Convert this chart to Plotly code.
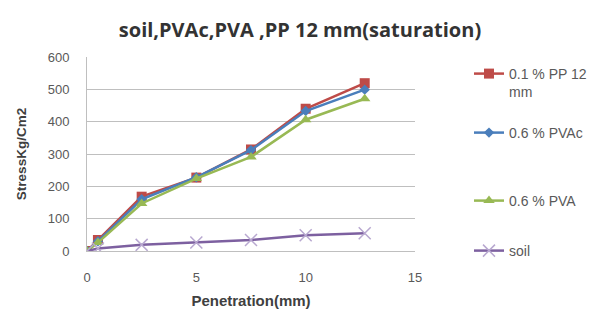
import plotly.graph_objects as go

penetration = [0, 0.5, 2.5, 5, 7.5, 10, 12.7]
pp_12mm = [0, 34, 168, 227, 314, 440, 519]
pvac = [0, 30, 160, 228, 312, 433, 499]
pva = [0, 26, 147, 224, 291, 406, 471]
soil = [0, 8, 19, 26, 34, 49, 55]

names = ["0.1 % PP 12<br>mm", "0.6 % PVAc", "0.6 % PVA", "soil"]
series = [pp_12mm, pvac, pva, soil]
colors = ["#BE4B48", "#4A7EBB", "#98B954", "#7D60A0"]
symbols = ["square", "diamond", "triangle-up", "x-thin"]
sizes = [10, 8, 10, 12]
legend_ids = ["legend", "legend2", "legend3", "legend4"]
legend_top_px = [50, 109, 177, 227]  # pixel from top of the figure

# page has an 8px body margin, so the figure is offset by 8px
W, H = 597, 325
pl, pt = 79, 49
pw, ph = 328, 194
pr = W - pl - pw
pb = H - pt - ph

fig = go.Figure()
for name, ys, c, s, sz, lg in zip(names, series, colors, symbols, sizes, legend_ids):
    mk = dict(symbol=s, size=sz, color=c)
    if s == "x-thin":
        mk = dict(symbol=s, size=sz, color="#B8A8D0", line=dict(width=1.5, color="#B8A8D0"))
    fig.add_trace(go.Scatter(x=penetration, y=ys, name=name, mode="lines+markers",
                             line=dict(color=c, width=2.5), marker=mk, legend=lg,
                             showlegend=True))

layout_legends = {}
for lg, py in zip(legend_ids, legend_top_px):
    layout_legends[lg] = dict(
        x=(461 - pl) / pw, xref="paper", xanchor="left",
        y=(H - pb - py) / ph, yref="paper", yanchor="top",
        font=dict(size=14, color="#595959", family="Liberation Sans, Arial"),
        bgcolor="rgba(0,0,0,0)", itemwidth=30, visible=True, valign="top")

fig.update_layout(
    width=W, height=H,
    showlegend=True,
    margin=dict(l=pl, r=pr, t=pt, b=pb, autoexpand=False),
    paper_bgcolor="white", plot_bgcolor="white",
    title=dict(text="<b>soil,PVAc,PVA ,PP 12 mm(saturation)</b>", x=292 / W, xref="container",
               xanchor="center", y=1 - 22 / H, yref="container", yanchor="middle",
               font=dict(size=20, color="#333333", family="Open Sans, Liberation Sans, Arial")),
    xaxis=dict(range=[0, 15], tickvals=[0, 5, 10, 15], showgrid=False,
               showline=True, linecolor="#BFBFBF", linewidth=1, zeroline=False,
               ticks="", ticklabelstandoff=14,
               tickfont=dict(size=13, color="#595959", family="Liberation Sans, Arial"),
               title=dict(text="<b>Penetration(mm)</b>", standoff=11,
                          font=dict(size=15, color="#404040", family="Liberation Sans, Arial"))),
    yaxis=dict(range=[0, 600], tickvals=[0, 100, 200, 300, 400, 500, 600], showgrid=True,
               gridcolor="#BFBFBF", gridwidth=1, showline=True, linecolor="#BFBFBF",
               zeroline=False, ticks="", ticklabelstandoff=14,
               tickfont=dict(size=13, color="#595959", family="Liberation Sans, Arial"),
               title=dict(text="<b>StressKg/Cm2</b>", standoff=17,
                          font=dict(size=13.5, color="#404040", family="Liberation Sans, Arial"))),
    **layout_legends,
)

fig.write_html("out.html")
